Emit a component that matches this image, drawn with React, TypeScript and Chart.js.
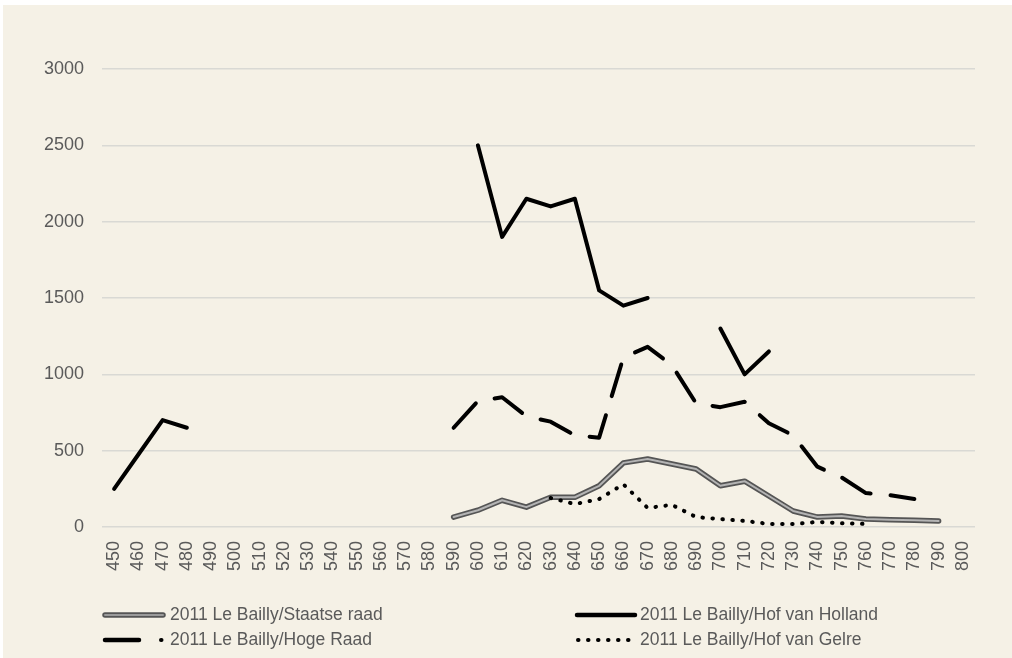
import React, { useEffect, useRef } from "react";
import { Chart, registerables } from "chart.js";

Chart.register(...registerables);

const years = [
  "450", "460", "470", "480", "490", "500", "510", "520", "530", "540",
  "550", "560", "570", "580", "590", "600", "610", "620", "630", "640",
  "650", "660", "670", "680", "690", "700", "710", "720", "730", "740",
  "750", "760", "770", "780", "790", "800",
];

const staatseRaad = [
  null, null, null, null, null, null, null, null, null, null,
  null, null, null, null, 65, 110, 175, 130, 195, 195,
  270, 420, 445, 413, 380, 270, 300, 203, 105, 65,
  72, 52, 48, 45, 40, null,
];

const hofVanHolland = [
  250, 475, 700, 650, null, null, null, null, null, null,
  null, null, null, null, null, 2500, 1900, 2150, 2100, 2150,
  1550, 1450, 1500, null, null, 1300, 1000, 1150, null, null,
  null, null, null, null, null, null,
];

const hogeRaad = [
  null, null, null, null, null, null, null, null, null, null,
  null, null, null, null, 650, 825, 850, 725, 690, 600,
  585, 1110, 1180, 1060, 810, 785, 820, 680, 600, 395,
  325, 222, 208, 183, null, null,
];

const hofVanGelre = [
  null, null, null, null, null, null, null, null, null, null,
  null, null, null, null, null, null, null, null, 190, 150,
  183, 280, 125, 145, 65, 52, 40, 20, 20, 33,
  25, 20, null, null, null, null,
];

const yTicks = [0, 500, 1000, 1500, 2000, 2500, 3000];

const legendLabels = [
  "2011 Le Bailly/Staatse raad",
  "2011 Le Bailly/Hof van Holland",
  "2011 Le Bailly/Hoge Raad",
  "2011 Le Bailly/Hof van Gelre",
];

const FONT = '"Liberation Sans", Arial, sans-serif';
const TEXT_COLOR = "#5a5a5a";

const legendPlugin = {
  id: "customLegend",
  afterDraw(chart: any) {
    const ctx = chart.ctx as CanvasRenderingContext2D;
    ctx.save();
    ctx.font = `17.5px ${FONT}`;
    ctx.fillStyle = TEXT_COLOR;
    ctx.textBaseline = "middle";
    ctx.textAlign = "left";
    const row1 = 610;
    const row2 = 635;
    const leftLine = 100;
    const leftText = 167;
    const rightLine = 572;
    const rightText = 637;

    // Staatse raad: double line
    ctx.lineCap = "round";
    ctx.strokeStyle = "#555555";
    ctx.lineWidth = 5.5;
    ctx.beginPath();
    ctx.moveTo(leftLine + 2, row1);
    ctx.lineTo(leftLine + 60, row1);
    ctx.stroke();
    ctx.strokeStyle = "#9a9a9a";
    ctx.lineWidth = 2;
    ctx.beginPath();
    ctx.moveTo(leftLine + 2, row1);
    ctx.lineTo(leftLine + 60, row1);
    ctx.stroke();
    ctx.fillText(legendLabels[0], leftText, row1);

    // Hof van Holland: solid
    ctx.strokeStyle = "#000000";
    ctx.lineWidth = 4.5;
    ctx.beginPath();
    ctx.moveTo(rightLine + 2, row1);
    ctx.lineTo(rightLine + 60, row1);
    ctx.stroke();
    ctx.fillText(legendLabels[1], rightText, row1);

    // Hoge Raad: long dash dot
    ctx.lineWidth = 4.5;
    ctx.beginPath();
    ctx.moveTo(leftLine + 2, row2);
    ctx.lineTo(leftLine + 36, row2);
    ctx.stroke();
    ctx.lineWidth = 4;
    ctx.beginPath();
    ctx.moveTo(leftLine + 58, row2);
    ctx.lineTo(leftLine + 58.5, row2);
    ctx.stroke();
    ctx.fillText(legendLabels[2], leftText, row2);

    // Hof van Gelre: dotted
    ctx.lineWidth = 4;
    ctx.setLineDash([0.5, 9.5]);
    ctx.beginPath();
    ctx.moveTo(rightLine + 3, row2);
    ctx.lineTo(rightLine + 58, row2);
    ctx.stroke();
    ctx.setLineDash([]);
    ctx.fillText(legendLabels[3], rightText, row2);
    ctx.restore();
  },
};

export default function App() {
  const canvasRef = useRef<HTMLCanvasElement | null>(null);

  useEffect(() => {
    const canvas = canvasRef.current;
    if (!canvas) return;
    const chart = new Chart(canvas, {
      type: "line",
      data: {
        labels: years,
        datasets: [
          {
            label: legendLabels[3],
            data: hofVanGelre,
            borderColor: "#000000",
            borderWidth: 4,
            borderDash: [0.5, 9.5],
            borderCapStyle: "round",
            pointRadius: 0,
            tension: 0,
            spanGaps: false,
            order: 0,
          },
          {
            label: "inner",
            data: staatseRaad,
            borderColor: "#b4b4b4",
            borderWidth: 2,
            borderCapStyle: "round",
            borderJoinStyle: "round",
            pointRadius: 0,
            tension: 0,
            order: 1,
          },
          {
            label: legendLabels[0],
            data: staatseRaad,
            borderColor: "#555555",
            borderWidth: 5.5,
            borderCapStyle: "round",
            borderJoinStyle: "round",
            pointRadius: 0,
            tension: 0,
            order: 2,
          },
          {
            label: legendLabels[2],
            data: hogeRaad,
            borderColor: "#000000",
            borderWidth: 4,
            borderDash: [33, 20],
            borderCapStyle: "round",
            borderJoinStyle: "round",
            pointRadius: 0,
            tension: 0,
            order: 3,
          },
          {
            label: legendLabels[1],
            data: hofVanHolland,
            borderColor: "#000000",
            borderWidth: 4,
            borderCapStyle: "round",
            borderJoinStyle: "round",
            pointRadius: 0,
            tension: 0,
            order: 4,
          },
        ],
      },
      options: {
        responsive: false,
        animation: false,
        devicePixelRatio: 1,
        layout: { padding: { top: 64, right: 37, bottom: 81, left: 0 } },
        plugins: {
          legend: { display: false },
          tooltip: { enabled: false },
        },
        scales: {
          x: {
            offset: true,
            grid: { display: false, drawTicks: false, offset: true },
            border: { display: false },
            afterFit: (scale: any) => {
              scale.height = 50;
            },
            ticks: {
              autoSkip: false,
              maxRotation: 90,
              minRotation: 90,
              padding: 14,
              color: TEXT_COLOR,
              font: { family: FONT, size: 18 },
            },
          },
          y: {
            min: 0,
            max: 3000,
            afterFit: (scale: any) => {
              scale.width = 99;
            },
            afterBuildTicks: (scale: any) => {
              scale.ticks = yTicks.map((v) => ({ value: v }));
            },
            grid: { color: "#d9d9d4", lineWidth: 1.5, drawTicks: false },
            border: { display: false },
            ticks: {
              padding: 18,
              color: TEXT_COLOR,
              font: { family: FONT, size: 18 },
              callback: (value: any) => String(value),
            },
          },
        },
      },
      plugins: [legendPlugin],
    });
    return () => chart.destroy();
  }, []);

  return (
    <div
      style={{
        position: "fixed",
        left: 3,
        top: 5,
        width: 1009,
        height: 653,
        background: "#F5F1E6",
      }}
    >
      <canvas ref={canvasRef} width={1009} height={653} style={{ display: "block" }} />
    </div>
  );
}
